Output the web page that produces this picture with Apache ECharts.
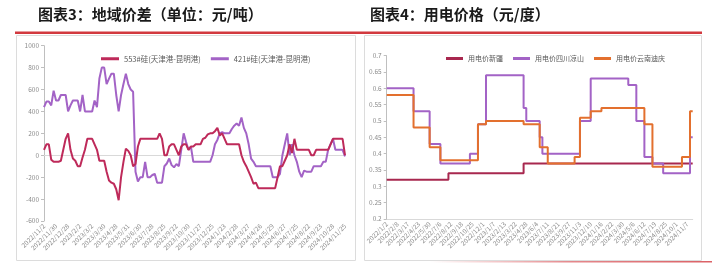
<!DOCTYPE html>
<html><head><meta charset="utf-8">
<script src="https://cdn.jsdelivr.net/npm/echarts/dist/echarts.min.js"></script>
<style>html,body{margin:0;padding:0;background:#fff}#c{width:721px;height:264px}</style>
</head><body><div id="c"></div><script>
// ---- Left chart: 地域价差 ----
const leftTicks = ['2022/11/2','2022/11/30','2022/12/28','2023/2/2','2023/3/2','2023/3/30','2023/4/28','2023/5/31','2023/6/30','2023/7/28','2023/8/25','2023/9/22','2023/10/30','2023/11/27','2023/12/25','2024/1/23','2024/2/28','2024/3/27','2024/4/26','2024/5/29','2024/6/27','2024/7/25','2024/8/22','2024/9/23','2024/10/28','2024/11/25'];
const leftNames = ['553#硅(天津港-昆明港)','421#硅(天津港-昆明港)'];
const spread553 = [
  50,100,100,-40,-60,-60,-60,-50,50,150,
  200,50,-30,-50,-100,-100,-20,50,150,150,
  150,100,50,-50,-50,-50,-150,-230,-250,-260,
  -310,-410,-200,-60,60,40,0,-100,-80,80,
  150,150,150,150,150,150,150,150,200,150,
  0,0,80,100,100,50,0,80,100,100,
  50,80,80,100,100,100,150,160,190,200,
  200,220,250,180,200,150,100,100,100,100,
  100,100,0,-60,-100,-150,-200,-260,-250,-300,
  -300,-300,-300,-300,-300,-300,-300,-200,-100,-100,
  -50,0,100,20,150,50,50,50,50,50,
  50,0,0,50,50,50,50,50,50,100,
  150,150,150,150,150,0];
const spread421 = [
  440,490,490,455,590,500,500,550,550,550,
  400,455,500,500,500,400,550,400,400,400,
  400,500,440,700,800,800,650,700,745,745,
  550,400,550,650,745,650,600,580,-150,-240,
  -200,-200,-60,-200,-200,-180,-170,-250,-250,-250,
  -100,-75,-30,-90,-110,-80,-100,50,200,120,
  50,80,-60,-60,-60,-60,-60,-60,-60,-60,
  0,100,140,200,210,200,200,200,240,270,
  290,270,345,250,200,100,-30,-60,-100,-100,
  -100,-100,-100,-100,-100,-200,-200,-200,-170,0,
  100,200,0,100,0,-60,-150,-200,-140,-150,
  -150,-150,-100,-100,-100,-100,-60,-60,50,100,
  150,50,50,50,50,-10];

// ---- Right chart: 用电价格 ----
const rightTicks = ['2022/1/2','2022/2/8','2022/3/17','2022/4/23','2022/5/30','2022/7/6','2022/8/12','2022/9/18','2022/10/25','2022/12/1','2023/1/7','2023/2/13','2023/3/22','2023/4/28','2023/6/4','2023/7/11','2023/8/21','2023/9/27','2023/11/3','2023/12/10','2024/1/16','2024/2/22','2024/3/30','2024/5/6','2024/6/12','2024/7/19','2024/8/25','2024/10/1','2024/11/7'];
const rightNames = ['用电价新疆','用电价四川凉山','用电价云南迪庆'];
const priceXinjiang = [
  0.32,0.32,0.32,0.32,0.32,0.32,0.32,0.32,0.32,0.32,
  0.32,0.32,0.32,0.32,0.32,0.32,0.32,0.32,0.32,0.32,
  0.32,0.32,0.32,0.34,0.34,0.34,0.34,0.34,0.34,0.34,
  0.34,0.34,0.34,0.34,0.34,0.34,0.34,0.34,0.34,0.34,
  0.34,0.34,0.34,0.34,0.34,0.34,0.34,0.34,0.34,0.34,
  0.34,0.37,0.37,0.37,0.37,0.37,0.37,0.37,0.37,0.37,
  0.37,0.37,0.37,0.37,0.37,0.37,0.37,0.37,0.37,0.37,
  0.37,0.37,0.37,0.37,0.37,0.37,0.37,0.37,0.37,0.37,
  0.37,0.37,0.37,0.37,0.37,0.37,0.37,0.37,0.37,0.37,
  0.37,0.37,0.37,0.37,0.37,0.37,0.37,0.37,0.37,0.37,
  0.37,0.37,0.37,0.37,0.37,0.37,0.37,0.37,0.37,0.37,
  0.37,0.37,0.37,0.37,0.37];
const priceSichuan = [
  0.60,0.60,0.60,0.60,0.60,0.60,0.60,0.60,0.60,0.60,
  0.53,0.53,0.53,0.53,0.53,0.53,0.43,0.43,0.43,0.43,
  0.37,0.37,0.37,0.37,0.37,0.37,0.37,0.37,0.37,0.37,
  0.37,0.40,0.40,0.40,0.49,0.49,0.49,0.64,0.64,0.64,
  0.64,0.64,0.64,0.64,0.64,0.64,0.64,0.64,0.64,0.64,
  0.64,0.54,0.50,0.50,0.50,0.50,0.50,0.45,0.40,0.40,
  0.40,0.40,0.40,0.40,0.40,0.40,0.40,0.40,0.40,0.40,
  0.40,0.40,0.50,0.50,0.50,0.50,0.63,0.63,0.63,0.63,
  0.63,0.63,0.63,0.63,0.63,0.63,0.63,0.63,0.63,0.63,
  0.61,0.61,0.61,0.50,0.50,0.50,0.39,0.39,0.39,0.37,
  0.37,0.37,0.37,0.34,0.34,0.34,0.34,0.34,0.34,0.34,
  0.34,0.34,0.34,0.45,0.45];
const priceYunnan = [
  0.58,0.58,0.58,0.58,0.58,0.58,0.58,0.58,0.58,0.58,
  0.48,0.48,0.48,0.48,0.48,0.48,0.42,0.42,0.42,0.42,
  0.38,0.38,0.38,0.38,0.38,0.38,0.38,0.38,0.38,0.38,
  0.38,0.38,0.38,0.38,0.49,0.49,0.49,0.50,0.50,0.50,
  0.50,0.50,0.50,0.50,0.50,0.50,0.50,0.50,0.50,0.50,
  0.50,0.49,0.49,0.49,0.49,0.49,0.49,0.42,0.42,0.42,
  0.37,0.37,0.37,0.37,0.37,0.37,0.37,0.37,0.37,0.37,
  0.39,0.39,0.51,0.51,0.51,0.51,0.53,0.53,0.53,0.53,
  0.54,0.54,0.54,0.54,0.54,0.54,0.54,0.54,0.54,0.54,
  0.54,0.54,0.54,0.54,0.54,0.54,0.49,0.49,0.49,0.36,
  0.36,0.36,0.36,0.36,0.36,0.36,0.36,0.36,0.36,0.36,
  0.39,0.39,0.39,0.53,0.53];

// category builders (tick label then unlabeled sub-steps)
const leftCats = [];
leftTicks.forEach((t, k) => { leftCats.push(t); if (k < leftTicks.length - 1) for (let j = 1; j < 5; j++) leftCats.push(t + '|' + j); });
const rightCats = [];
rightTicks.forEach((t, k) => { rightCats.push(t); const n = k < rightTicks.length - 1 ? 3 : 2; for (let j = 1; j <= n; j++) rightCats.push(t + '|' + j); });
const hideSub = v => (v.indexOf('|') >= 0 ? '' : v);

const FONT = '"Noto Sans CJK SC","Noto Sans",sans-serif';
const axisGray = '#BFBFBF';
const labelGray = '#8C8C8C';

const chart = echarts.init(document.getElementById('c'));
chart.setOption({
  animation: false,
  textStyle: { fontFamily: FONT },
  title: [
    { text: '图表3：地域价差（单位：元/吨）', left: 38, top: 7, padding: 0,
      textStyle: { fontSize: 15, fontWeight: 'bold', color: '#1A1A1A', fontFamily: FONT } },
    { text: '图表4：用电价格（元/度）', left: 370, top: 7, padding: 0,
      textStyle: { fontSize: 15, fontWeight: 'bold', color: '#1A1A1A', fontFamily: FONT } }
  ],
  graphic: [
    { type: 'rect', shape: { x: 15, y: 31.5, width: 687, height: 2.5 }, style: { fill: '#D2393F' }, silent: true },
    { type: 'rect', shape: { x: 16.5, y: 35.5, width: 339, height: 225 }, style: { fill: 'none', stroke: '#DCDCDC', lineWidth: 1 }, silent: true },
    { type: 'rect', shape: { x: 364.5, y: 35.5, width: 337, height: 225 }, style: { fill: 'none', stroke: '#DCDCDC', lineWidth: 1 }, silent: true },
    { type: 'rect', shape: { x: 430, y: 261, width: 282, height: 1.5 },
      style: { fill: new echarts.graphic.LinearGradient(0, 0, 1, 0, [{ offset: 0, color: 'rgba(210,57,63,0)' }, { offset: 0.5, color: 'rgba(210,57,63,0.6)' }, { offset: 1, color: 'rgba(210,57,63,0.8)' }]) }, silent: true }
  ],
  legend: [
    { data: leftNames, left: 96, top: 50, itemWidth: 18, itemHeight: 3, itemGap: 10, icon: 'rect',
      textStyle: { fontSize: 7.5, color: '#595959', fontFamily: FONT } },
    { data: rightNames, left: 441, top: 50, itemWidth: 17, itemHeight: 3, itemGap: 10, icon: 'rect',
      textStyle: { fontSize: 7, color: '#595959', fontFamily: FONT } }
  ],
  grid: [
    { left: 44, top: 45.7, width: 301, height: 175.3 },
    { left: 386.7, top: 55.7, width: 306, height: 163.3 }
  ],
  xAxis: [
    { gridIndex: 0, type: 'category', data: leftCats, boundaryGap: false,
      axisLine: { show: false }, axisTick: { show: false },
      axisLabel: { interval: 4, rotate: 45, fontSize: 6.5, color: labelGray, margin: 4, formatter: hideSub } },
    { gridIndex: 1, type: 'category', data: rightCats, boundaryGap: false,
      axisLine: { show: true, lineStyle: { color: '#D9D9D9' } }, axisTick: { show: false },
      axisLabel: { interval: 3, rotate: 45, fontSize: 6.5, color: labelGray, margin: 4, formatter: hideSub } }
  ],
  yAxis: [
    { gridIndex: 0, type: 'value', min: -600, max: 1000, interval: 200,
      axisLine: { show: true, lineStyle: { color: axisGray } },
      axisTick: { show: true, length: 3, lineStyle: { color: axisGray } },
      splitLine: { show: false },
      axisLabel: { fontSize: 6.5, color: labelGray, margin: 5, formatter: v => String(v) } },
    { gridIndex: 1, type: 'value', min: 0.2, max: 0.7, interval: 0.05,
      axisLine: { show: true, lineStyle: { color: axisGray } },
      axisTick: { show: true, length: 3, lineStyle: { color: axisGray } },
      splitLine: { show: false },
      axisLabel: { fontSize: 6.5, color: labelGray, margin: 5, formatter: v => String(+v.toFixed(2)) } }
  ],
  series: [
    { name: leftNames[0], type: 'line', xAxisIndex: 0, yAxisIndex: 0, data: spread553,
      showSymbol: false, lineStyle: { width: 2, color: '#BE2A5A' }, itemStyle: { color: '#BE2A5A' }, z: 3,
      markLine: { silent: true, symbol: 'none', label: { show: false },
        lineStyle: { color: '#D9D9D9', width: 1, type: 'solid' }, data: [{ yAxis: 0 }], z: 1 } },
    { name: leftNames[1], type: 'line', xAxisIndex: 0, yAxisIndex: 0, data: spread421,
      showSymbol: false, lineStyle: { width: 2, color: '#A363C6' }, itemStyle: { color: '#A363C6' }, z: 2 },
    { name: rightNames[0], type: 'line', step: 'end', xAxisIndex: 1, yAxisIndex: 1, data: priceXinjiang,
      showSymbol: false, lineStyle: { width: 2, color: '#A8284F' }, itemStyle: { color: '#A8284F' } },
    { name: rightNames[1], type: 'line', step: 'end', xAxisIndex: 1, yAxisIndex: 1, data: priceSichuan,
      showSymbol: false, lineStyle: { width: 2, color: '#A363C6' }, itemStyle: { color: '#A363C6' } },
    { name: rightNames[2], type: 'line', step: 'end', xAxisIndex: 1, yAxisIndex: 1, data: priceYunnan,
      showSymbol: false, lineStyle: { width: 2, color: '#E3702E' }, itemStyle: { color: '#E3702E' } }
  ]
});
</script></body></html>
